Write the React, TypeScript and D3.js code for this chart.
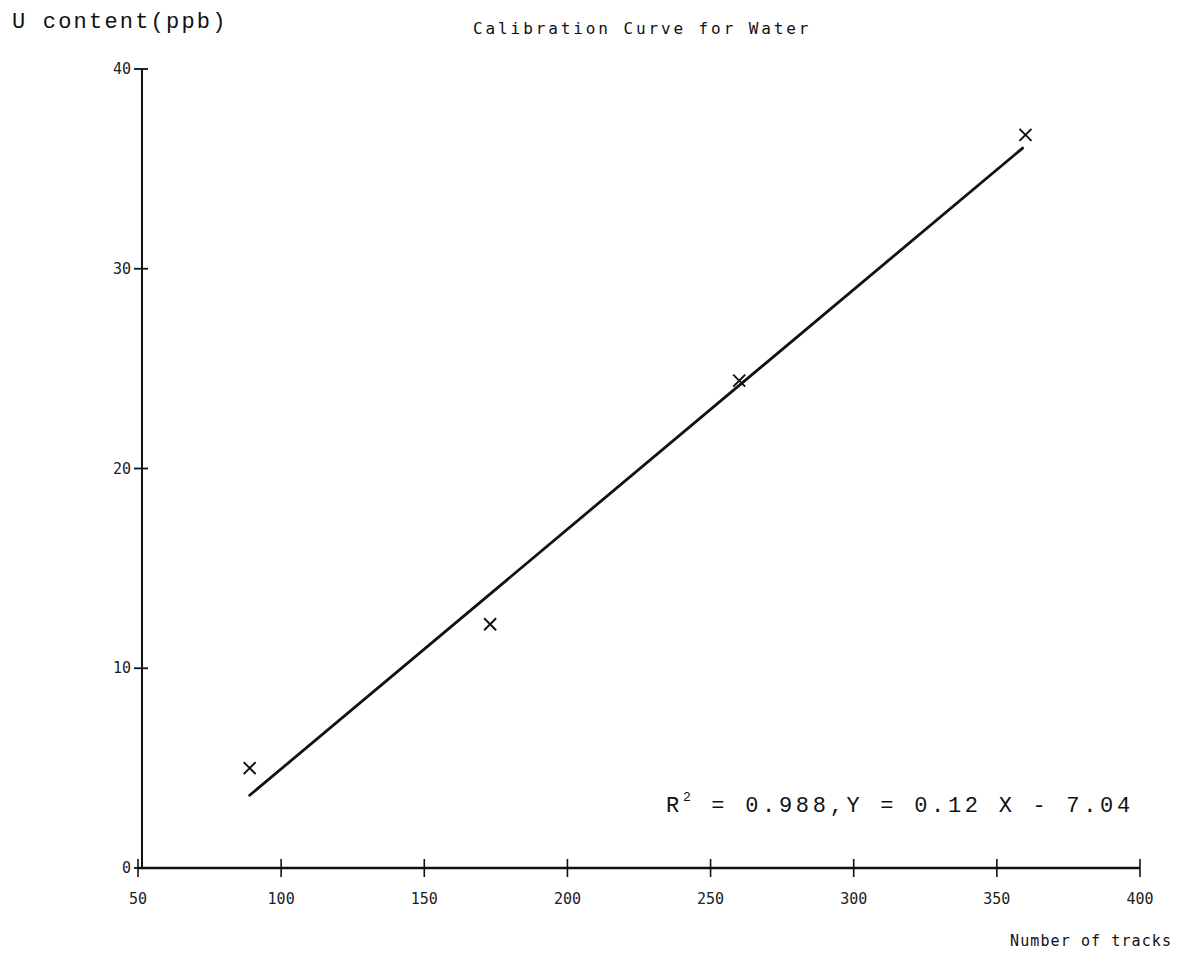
import React from "react";
import { scaleLinear, line } from "d3";

const tracks = [89, 173, 260, 360];
const uranium = [5, 12.2, 24.4, 36.7];
const xTicks = [50, 100, 150, 200, 250, 300, 350, 400];
const yTicks = [0, 10, 20, 30, 40];
const fitSlope = 0.12;
const fitIntercept = -7.04;
const fitRange = [89, 359];

const mono = "'Liberation Mono', 'DejaVu Sans Mono', monospace";
const thin = "'DejaVu Sans Mono', monospace";

export default function App() {
  const width = 1194;
  const height = 961;
  const x = scaleLinear().domain([50, 400]).range([138, 1140]);
  const y = scaleLinear().domain([0, 40]).range([868, 69]);

  const fit = line<number>()
    .x((d) => x(d))
    .y((d) => y(fitSlope * d + fitIntercept));

  return (
    <svg
      width={width}
      height={height}
      style={{ position: "absolute", left: 0, top: 0, background: "#fff" }}
    >
      {/* axes */}
      <line x1={x(50)} x2={x(400)} y1={y(0)} y2={y(0)} stroke="#111" strokeWidth={2.4} />
      <line x1={x(50) + 4} x2={x(50) + 4} y1={y(0)} y2={y(40)} stroke="#111" strokeWidth={2} />
      {xTicks.map((t) => (
        <g key={"x" + t}>
          <line x1={x(t)} x2={x(t)} y1={y(0) - 9} y2={y(0) + 9} stroke="#111" strokeWidth={1.6} />
          <text
            x={x(t)}
            y={y(0) + 36}
            textAnchor="middle"
            fontFamily={thin}
            fontSize={15}
            fill="#222"
          >
            {t}
          </text>
        </g>
      ))}
      {yTicks.map((t) => (
        <g key={"y" + t}>
          <line x1={x(50) - 4} x2={x(50) + 10} y1={y(t)} y2={y(t)} stroke="#111" strokeWidth={1.8} />
          <text
            x={x(50) - 7}
            y={y(t) + 5}
            textAnchor="end"
            fontFamily={thin}
            fontSize={15}
            fill="#222"
          >
            {t}
          </text>
        </g>
      ))}

      {/* fit line */}
      <path d={fit(fitRange) || ""} fill="none" stroke="#111" strokeWidth={2.8} strokeLinecap="round" />

      {/* points */}
      {tracks.map((t, i) => {
        const cx = x(t);
        const cy = y(uranium[i]);
        return (
          <g key={"p" + i} stroke="#111" strokeWidth={2}>
            <line x1={cx - 6} x2={cx + 6} y1={cy - 6} y2={cy + 6} />
            <line x1={cx + 6} x2={cx - 6} y1={cy - 6} y2={cy + 6} />
          </g>
        );
      })}

      {/* texts */}
      <text x={12} y={28} fontFamily={mono} fontSize={22} letterSpacing={2.2} fill="#111">
        U content(ppb)
      </text>
      <text x={473} y={34} fontFamily={thin} fontSize={16} letterSpacing={2.9} fill="#111">
        Calibration Curve for Water
      </text>
      <text x={1010} y={946} fontFamily={thin} fontSize={15} letterSpacing={1.1} fill="#111">
        Number of tracks
      </text>
      <text x={666} y={812} fontFamily={mono} fontSize={22} letterSpacing={3.7} fill="#111">
        R
        <tspan dy={-11} fontSize={13}>2</tspan>
        <tspan dy={11}> = 0.988,Y = 0.12 X - 7.04</tspan>
      </text>
    </svg>
  );
}
